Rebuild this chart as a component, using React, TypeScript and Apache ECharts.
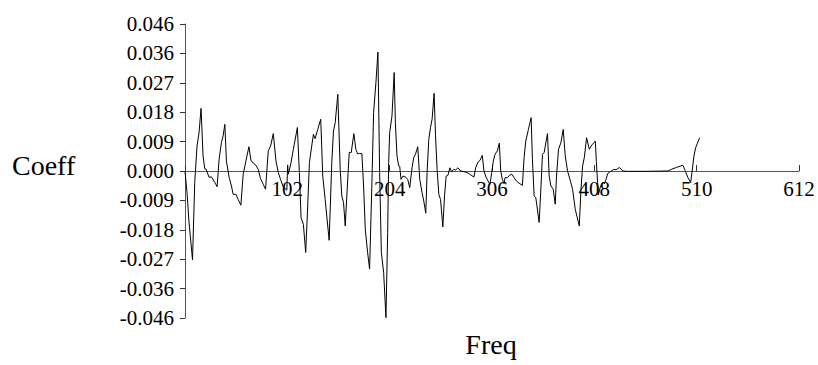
import React, { useEffect, useRef } from "react";
import * as echarts from "echarts";

const freqs = [
  0, 2, 4, 7.5, 9.7, 12, 14, 16, 18, 19.7, 21, 24, 26.3, 29.7, 32, 34, 36.3, 38, 39.7, 41.3,
  44, 46.3, 48, 50.7, 53, 55.7, 58, 60.7, 63.7, 65.7, 68, 70.7, 73, 75.3, 78, 80.3, 83, 85.3, 88, 90.7,
  93, 95.3, 98, 101.5, 102.3, 103, 105.7, 108, 112, 114, 115.7, 118, 120.3, 122.3, 124, 126.3, 128, 129.7, 132.3, 135.3,
  137.3, 139.7, 141.3, 143.7, 146.3, 148, 149.7, 152.3, 154.7, 156.3, 158, 159.7, 161.3, 163.7, 165.7, 168.3, 170.3, 172, 174, 176.3,
  178, 179.7, 182, 184, 186.3, 188, 190.3, 192.3, 194, 195.7, 198, 200.3, 202, 203, 204, 206.3, 208.5, 209.7, 211.3, 213,
  214, 215.3, 217.3, 219.7, 222, 224, 226.3, 228, 229.7, 232, 234, 236.3, 238, 240, 241.3, 243, 244.7, 246.3, 248.3, 249.7,
  251.3, 253, 254.7, 257, 258.7, 260.3, 262, 264, 265.7, 268, 269.7, 272, 274.7, 278, 281.3, 284.7, 288, 289.7, 292, 294,
  296.3, 298, 300, 302, 304, 305.7, 307.3, 309, 311.3, 313.3, 314.7, 316.3, 318, 319, 321.3, 323.7, 325.7, 328, 330.3, 333,
  336.3, 338, 339.7, 342.3, 345, 346.3, 348, 349.7, 353, 354.7, 356.3, 358, 359.7, 361.3, 363, 364.7, 367, 369, 370.3, 372.3,
  374.7, 377, 379, 381.3, 383.7, 386.3, 389, 393, 394.7, 396.3, 398, 400.3, 403, 404.7, 406.3, 409, 410, 412, 414, 416.5,
  418, 419.7, 421.3, 424, 427.3, 429.7, 433, 436.3, 439.7, 443, 460, 481.3, 484.7, 489.7, 496.3, 498, 501.3, 504, 505.3, 507.3,
  509, 513,
];

const coeffs = [
  0.0, -0.0068, -0.016, -0.0278, -0.0036, 0.0078, 0.012, 0.0196, 0.0047, 0.0007, 0.0006, -0.002, -0.0018, -0.0036, -0.0049, 0.0037, 0.0089, 0.011, 0.0146, 0.0031,
  -0.002, -0.0047, -0.0073, -0.0073, -0.0089, -0.0107, -0.001, 0.0031, 0.0076, 0.0034, 0.0025, 0.0018, 0.0005, -0.0024, -0.0042, -0.0057, 0.0063, 0.0078, 0.0117, 0.0031,
  -0.0005, -0.0027, -0.005, -0.006, 0.0019, -0.001, 0.0026, 0.0068, 0.0136, -0.0005, -0.0146, -0.0167, -0.0255, -0.011, 0.0026, 0.0078, 0.0115, 0.0101, 0.013, 0.0162,
  -0.0016, -0.0089, -0.0141, -0.0217, 0.0026, 0.0125, 0.0151, 0.024, 0.0005, -0.0078, -0.0099, -0.0172, -0.0078, 0.0058, 0.0058, 0.0117, 0.0068, 0.0054, 0.0055, 0.0054,
  -0.0047, -0.0182, -0.0255, -0.0307, -0.0036, 0.0183, 0.0277, 0.0372, -0.0005, -0.0255, -0.0318, -0.0459, -0.0193, 0.0026, 0.012, 0.0172, 0.0308, 0.0151, 0.0047, 0.0016,
  0.0015, -0.0026, -0.0016, -0.0019, -0.0026, -0.0052, 0.001, 0.0042, 0.0052, 0.0076, -0.0026, -0.0068, -0.0094, -0.0132, -0.0005, 0.0099, 0.0136, 0.0162, 0.0243, 0.011,
  0.0005, -0.0073, -0.0089, -0.0175, -0.0078, -0.0016, -0.0014, 0.001, -0.0002, 0.0005, 0.0003, 0.001, 0.0, -0.0002, -0.0005, -0.0012, -0.0019, 0.001, 0.0028, 0.0033,
  0.0049, 0.0, -0.0019, -0.0031, -0.0042, -0.0005, 0.0031, 0.0052, 0.0063, 0.0087, 0.0, -0.0026, -0.004, -0.0021, -0.0021, -0.0013, -0.001, -0.0021, -0.0031, -0.0038,
  -0.0045, 0.0042, 0.0094, 0.013, 0.0167, 0.0037, -0.0078, -0.0084, -0.0161, -0.0057, 0.0052, 0.0058, 0.0089, 0.0117, -0.0016, -0.0047, -0.0057, -0.0104, -0.0016, 0.0068,
  0.0089, 0.013, 0.0047, 0.0, -0.0026, -0.0057, -0.012, -0.0172, -0.0057, 0.0016, 0.0042, 0.0104, 0.0068, 0.0078, 0.0084, 0.0094, 0.003, -0.0075, -0.005, -0.0035,
  -0.004, -0.0026, -0.0008, -0.0002, 0.0005, 0.0004, 0.0011, 0.0, -0.0001, -0.0001, -0.0001, 0.0, 0.0005, 0.0011, 0.0018, 0.0005, -0.0021, -0.0036, -0.0005, 0.0047,
  0.0073, 0.0104,
];

const xTickLabels = ["", "102", "204", "306", "408", "510", "612"];
const yTickLabels = [
  "-0.046", "-0.036", "-0.027", "-0.018", "-0.009", "0.000",
  "0.009", "0.018", "0.027", "0.036", "0.046",
];

const X_STEP = 102;
const Y_STEP = 0.0092;
const FONT = '"Liberation Serif", "Times New Roman", serif';
const GRID_TOP = 24;
const GRID_BOTTOM = 47;
const CHART_H = 365;

export default function App() {
  const ref = useRef<HTMLDivElement>(null);

  useEffect(() => {
    document.body.style.margin = "0";
    if (!ref.current) return;
    const chart = echarts.init(ref.current, undefined, { renderer: "svg" });
    const data = freqs.map((f, i) => [f, coeffs[i]]);
    // x axis sits on the zero line (middle of the symmetric y range)
    const plotH = CHART_H - GRID_TOP - GRID_BOTTOM;
    chart.setOption({
      animation: false,
      backgroundColor: "#fff",
      grid: { left: 185, right: 19, top: GRID_TOP, bottom: GRID_BOTTOM },
      xAxis: {
        type: "value",
        min: 0,
        max: 612,
        interval: X_STEP,
        position: "bottom",
        offset: -plotH / 2,
        axisLine: { show: true, onZero: false, lineStyle: { color: "#555", width: 1 } },
        axisTick: { show: true, inside: true, length: 6, lineStyle: { color: "#333" } },
        axisLabel: {
          formatter: (v: number) => xTickLabels[Math.round(v / X_STEP)] ?? "",
          color: "#000",
          fontFamily: FONT,
          fontSize: 21,
          margin: 7,
        },
        splitLine: { show: false },
      },
      yAxis: {
        type: "value",
        min: -0.046,
        max: 0.046,
        interval: Y_STEP,
        axisLine: { show: true, onZero: false, lineStyle: { color: "#555", width: 1 } },
        axisTick: { show: true, inside: false, length: 5, lineStyle: { color: "#333" } },
        axisLabel: {
          formatter: (v: number) => yTickLabels[Math.round(v / Y_STEP) + 5] ?? "",
          color: "#000",
          fontFamily: FONT,
          fontSize: 21,
          margin: 11,
        },
        splitLine: { show: false },
      },
      graphic: [
        {
          type: "text",
          x: 12,
          y: 165,
          style: {
            text: "Coeff",
            font: `28px ${FONT}`,
            fill: "#000",
            align: "left",
            verticalAlign: "middle",
          },
        },
        {
          type: "text",
          x: 491,
          y: 344,
          style: {
            text: "Freq",
            font: `28px ${FONT}`,
            fill: "#000",
            align: "center",
            verticalAlign: "middle",
          },
        },
      ],
      series: [
        {
          type: "line",
          data,
          showSymbol: false,
          symbol: "none",
          lineStyle: { color: "#000", width: 1 },
          z: 3,
        },
      ],
    });
    return () => chart.dispose();
  }, []);

  return <div ref={ref} style={{ width: 818, height: 365 }} />;
}
